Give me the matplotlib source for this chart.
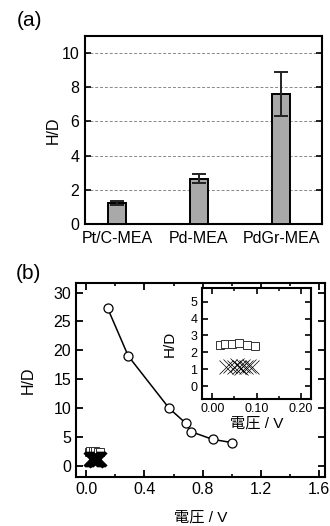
import matplotlib
matplotlib.use("Agg")
import matplotlib.pyplot as plt
from matplotlib.ticker import MultipleLocator, FormatStrFormatter

plt.rcParams['font.family'] = ['Liberation Sans', 'Noto Sans CJK JP', 'DejaVu Sans']

# ---- data ----
categories = ["Pt/C-MEA", "Pd-MEA", "PdGr-MEA"]
hd_values = [1.25, 2.65, 7.6]
hd_errors = [0.12, 0.25, 1.3]

volt_circle = [0.147, 0.289, 0.57, 0.685, 0.72, 0.868, 1.003]
hd_circle = [27.3, 19.0, 9.94, 7.34, 5.9, 4.57, 4.0]

volt_square = [0.018, 0.029, 0.045, 0.060, 0.078, 0.097]
hd_square = [2.45, 2.50, 2.52, 2.58, 2.45, 2.35]

volt_cross = [0.030, 0.040, 0.048, 0.055, 0.060, 0.065, 0.070, 0.075, 0.082, 0.090]
hd_cross = [1.15, 1.20, 1.10, 1.25, 1.15, 1.05, 1.20, 1.10, 1.18, 1.12]

fig = plt.figure(figsize=(3.3, 5.26), dpi=100)

# ---- panel (a) ----
axa = fig.add_axes([85/330, 1-224/526, 237/330, 188/526])
x = list(range(len(categories)))
axa.bar(x, hd_values, width=0.23, color="#a9a9a9", edgecolor="black", linewidth=1.4, zorder=3)
axa.errorbar(x, hd_values, yerr=hd_errors, fmt="none", ecolor="#222222",
             elinewidth=1.4, capsize=5, capthick=1.4, zorder=4)
axa.set_xlim(-0.39, 2.5)
axa.set_ylim(0, 11)
axa.set_yticks([0, 2, 4, 6, 8, 10])
axa.set_xticks(x)
axa.set_xticklabels(categories, fontsize=11.5)
axa.tick_params(axis='x', length=0, pad=5)
axa.tick_params(axis='y', direction='in', length=4, width=1.2, labelsize=11.5, right=True, pad=4)
for yv in [2, 4, 6, 8, 10]:
    axa.axhline(yv, color="#888888", linestyle=(0, (3, 2)), linewidth=0.7, zorder=1)
for s in axa.spines.values():
    s.set_linewidth(1.5)
axa.set_ylabel("H/D", fontsize=11.5, labelpad=1)
fig.text(29/330, 1-21/526, "(a)", fontsize=15, ha="center", va="center")

# ---- panel (b) ----
axb = fig.add_axes([76/330, 1-476.7/526, 249/330, 193.4/526])
axb.plot(volt_circle, hd_circle, color="black", linewidth=1.1, marker="o",
         markersize=6.5, markerfacecolor="white", markeredgecolor="black",
         markeredgewidth=0.9, zorder=3)
axb.plot(volt_square, hd_square, linestyle="none", marker="s", markersize=5.5,
         markerfacecolor="white", markeredgecolor="#333333", markeredgewidth=0.7, zorder=3)
axb.plot(volt_cross, hd_cross, linestyle="none", marker="x", markersize=10.5,
         color="black", markeredgewidth=2.2, zorder=4)
axb.set_xlim(-0.07, 1.64)
axb.set_ylim(-1.9, 31.6)
axb.xaxis.set_major_locator(MultipleLocator(0.4))
axb.xaxis.set_minor_locator(MultipleLocator(0.2))
axb.yaxis.set_major_locator(MultipleLocator(5))
axb.xaxis.set_major_formatter(FormatStrFormatter("%.1f"))
axb.tick_params(which='major', direction='in', length=5, width=1.3, top=True, right=True,
                labelsize=11.5)
axb.tick_params(which='minor', direction='in', length=2.5, width=1.2, top=True, right=True)
for s in axb.spines.values():
    s.set_linewidth(1.5)
axb.set_ylabel("H/D", fontsize=11.5, labelpad=13)
axb.set_xlabel("電圧 / V", fontsize=11, labelpad=10)
fig.text(28/330, 1-273.5/526, "(b)", fontsize=15, ha="center", va="center")

# ---- inset ----
axi = fig.add_axes([201.7/330, 1-399/526, 109/330, 110.7/526])
axi.plot(volt_square, hd_square, linestyle="none", marker="s", markersize=6,
         markerfacecolor="white", markeredgecolor="#333333", markeredgewidth=0.7, zorder=3)
axi.plot(volt_cross, hd_cross, linestyle="none", marker="x", markersize=10,
         color="black", markeredgewidth=0.5, zorder=4)
axi.set_xlim(-0.024, 0.222)
axi.set_ylim(-0.77, 5.8)
axi.xaxis.set_major_locator(MultipleLocator(0.1))
axi.xaxis.set_minor_locator(MultipleLocator(0.05))
axi.yaxis.set_major_locator(MultipleLocator(1))
axi.xaxis.set_major_formatter(FormatStrFormatter("%.2f"))
axi.tick_params(which='major', direction='in', length=4, width=1.2, top=True, right=True,
                labelsize=9, pad=3)
axi.tick_params(which='minor', direction='in', length=2, width=1.1, top=True, right=True)
for s in axi.spines.values():
    s.set_linewidth(1.5)
axi.set_ylabel("H/D", fontsize=11, labelpad=10)
axi.set_xlabel("電圧 / V", fontsize=11, labelpad=1)

fig.savefig("out.png", dpi=100)
